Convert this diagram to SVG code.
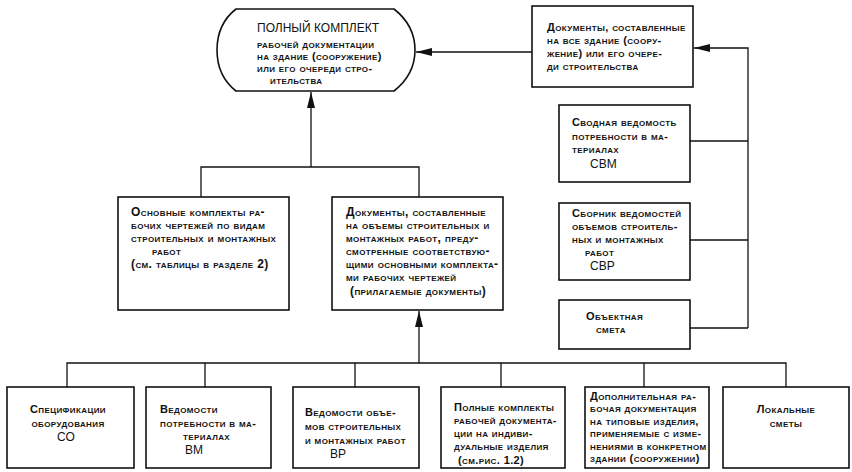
<svg xmlns="http://www.w3.org/2000/svg" width="852" height="472" viewBox="0 0 852 472">
<style>
.bx{fill:#fff;stroke:#111;stroke-width:1.6}
.ln{fill:none;stroke:#111;stroke-width:1.3}
.s{font-family:"Liberation Sans",Arial,sans-serif;font-size:11px;font-weight:bold;font-variant:small-caps;letter-spacing:0.4px;fill:#111}
.m{font-family:"Liberation Sans",Arial,sans-serif;font-size:12px;font-weight:bold;font-variant:small-caps;letter-spacing:0.4px;fill:#111}
.b{font-family:"Liberation Sans",Arial,sans-serif;font-size:12px;font-weight:normal;fill:#111}
.c{text-anchor:middle}
</style>
<defs>
<marker id="ar" markerUnits="userSpaceOnUse" markerWidth="16" markerHeight="8" refX="16" refY="4" orient="auto">
<path d="M0,0 L16,4 L0,8 Z" fill="#111"/>
</marker>
</defs>
<rect width="852" height="472" fill="#fff"/>
<g id="connectors">
<path class="ln" d="M532,52 L416,52" marker-end="url(#ar)"/>
<path class="ln" d="M748,328 L748,48 L694,48" marker-end="url(#ar)"/>
<path class="ln" d="M690,141 L748,141 M690,240 L748,240 M690,328 L748,328"/>
<path class="ln" d="M201,197 L201,167 L419,167 L419,197"/>
<path class="ln" d="M311,167 L311,92" marker-end="url(#ar)"/>
<path class="ln" d="M419,363 L419,311" marker-end="url(#ar)"/>
<path class="ln" d="M67,387 L67,363 L786,363 L786,387 M205,363 L205,387 M355,363 L355,387 M501,363 L501,387 M644,363 L644,387"/>
</g>
<g id="n-full">
<path class="bx" d="M236,9 L394,9 C408,20 415,35 415,50 C415,66 408,80 394,91 L236,91 C222,80 217,66 217,50 C217,35 222,20 236,9 Z"/>
<text class="b" x="257" y="32" font-size="11">ПОЛНЫЙ КОМПЛЕКТ</text>
<text class="s" x="257" y="48">рабочей документации</text>
<text class="s" x="257" y="60">на здание (сооружение)</text>
<text class="s" x="257" y="72">или его очереди стро-</text>
<text class="s" x="270" y="84">ительства</text>
</g>
<g id="n-whole">
<rect class="bx" x="532" y="6" width="161" height="81"/>
<text class="s" x="547" y="31">Документы, составленные</text>
<text class="s" x="547" y="44">на все здание (соору-</text>
<text class="s" x="547" y="57">жение) или его очере-</text>
<text class="s" x="547" y="70">ди строительства</text>
</g>
<g id="n-svm">
<rect class="bx" x="559" y="105" width="131" height="77"/>
<text class="s" x="572" y="126">Сводная ведомость</text>
<text class="s" x="572" y="140">потребности в ма-</text>
<text class="s" x="572" y="153">териалах</text>
<text class="b" x="590" y="168">СВМ</text>
</g>
<g id="n-svr">
<rect class="bx" x="559" y="203" width="131" height="77"/>
<text class="s" x="572" y="217">Сборник ведомостей</text>
<text class="s" x="572" y="230">объемов строитель-</text>
<text class="s" x="572" y="243">ных и монтажных</text>
<text class="s" x="585" y="256">работ</text>
<text class="b" x="590" y="270">СВР</text>
</g>
<g id="n-smeta">
<rect class="bx" x="559" y="300" width="131" height="49"/>
<text class="s" x="586" y="320">Объектная</text>
<text class="s" x="596" y="333">смета</text>
</g>
<g id="n-basic">
<rect class="bx" x="118" y="197" width="171" height="113"/>
<text class="m" x="131" y="216">Основные комплекты ра-</text>
<text class="m" x="131" y="229">бочих чертежей по видам</text>
<text class="m" x="131" y="242">строительных и монтажных</text>
<text class="m" x="152" y="255">работ</text>
<text class="m" x="131" y="268">(см. таблицы в разделе 2)</text>
</g>
<g id="n-attached">
<rect class="bx" x="332" y="197" width="171" height="113"/>
<text class="m" x="346" y="216">Документы, составленные</text>
<text class="m" x="346" y="229">на объемы строительных и</text>
<text class="m" x="346" y="242">монтажных работ, преду-</text>
<text class="m" x="346" y="255">смотренные соответствую-</text>
<text class="m" x="346" y="268">щими основными комплекта-</text>
<text class="m" x="346" y="281">ми рабочих чертежей</text>
<text class="m" x="350" y="295">(прилагаемые документы)</text>
</g>
<g id="n-co">
<rect class="bx" x="7" y="387" width="127" height="81"/>
<text class="s c" x="68" y="413">Спецификации</text>
<text class="s c" x="68" y="427">оборудования</text>
<text class="b" x="57" y="441">СО</text>
</g>
<g id="n-vm">
<rect class="bx" x="146" y="387" width="125" height="81"/>
<text class="s" x="160" y="413">Ведомости</text>
<text class="s" x="160" y="427">потребности в ма-</text>
<text class="s" x="183" y="440">териалах</text>
<text class="b" x="185" y="454">ВМ</text>
</g>
<g id="n-vr">
<rect class="bx" x="293" y="387" width="126" height="81"/>
<text class="s" x="305" y="416">Ведомости объе-</text>
<text class="s" x="305" y="430">мов строительных</text>
<text class="s" x="305" y="444">и монтажных работ</text>
<text class="b" x="330" y="458">ВР</text>
</g>
<g id="n-indiv">
<rect class="bx" x="441" y="387" width="124" height="81"/>
<text class="s" x="454" y="411">Полные комплекты</text>
<text class="s" x="454" y="424">рабочей документа-</text>
<text class="s" x="454" y="437">ции на индиви-</text>
<text class="s" x="454" y="450">дуальные изделия</text>
<text class="s" x="458" y="464">(см.рис. 1.2)</text>
</g>
<g id="n-extra">
<rect class="bx" x="585" y="387" width="124" height="81"/>
<text class="s" x="590" y="400">Дополнительная ра-</text>
<text class="s" x="590" y="412">бочая документация</text>
<text class="s" x="590" y="425">на типовые изделия,</text>
<text class="s" x="590" y="437">применяемые с изме-</text>
<text class="s" x="590" y="450">нениями в конкретном</text>
<text class="s" x="590" y="462">здании (сооружении)</text>
</g>
<g id="n-local">
<rect class="bx" x="723" y="387" width="126" height="81"/>
<text class="s c" x="786" y="413">Локальные</text>
<text class="s c" x="786" y="427">сметы</text>
</g>
</svg>
